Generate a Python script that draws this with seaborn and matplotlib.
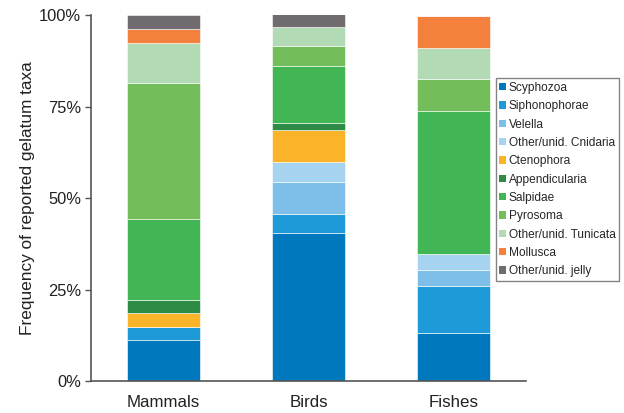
import matplotlib
matplotlib.use("Agg")
import matplotlib.pyplot as plt
from matplotlib.patches import Patch
from matplotlib.ticker import PercentFormatter
import numpy as np
import pandas as pd
import seaborn as sns

# Predator groups and taxon composition (% of reported gelatinous taxa)
groups = ["Mammals", "Birds", "Fishes"]
taxa = ["Scyphozoa", "Siphonophorae", "Velella", "Other/unid. Cnidaria",
        "Ctenophora", "Appendicularia", "Salpidae", "Pyrosoma",
        "Other/unid. Tunicata", "Mollusca", "Other/unid. jelly"]

scyphozoa = [11.1, 40.4, 13.0]
siphonophorae = [3.7, 5.3, 13.0]
velella = [0.0, 8.8, 4.3]
other_cnidaria = [0.0, 5.3, 4.3]
ctenophora = [3.7, 8.8, 0.0]
appendicularia = [3.7, 1.8, 0.0]
salpidae = [22.2, 15.8, 39.1]
pyrosoma = [37.0, 5.3, 8.7]
other_tunicata = [11.1, 5.3, 8.7]
mollusca = [3.7, 0.0, 8.7]
other_jelly = [3.7, 3.5, 0.0]

series = [scyphozoa, siphonophorae, velella, other_cnidaria, ctenophora,
          appendicularia, salpidae, pyrosoma, other_tunicata, mollusca,
          other_jelly]

colors = ["#0078BE", "#1E9AD8", "#7DBFE8", "#A6D3F0", "#FBB42A", "#2E8B45",
          "#42B555", "#73BE5B", "#B2DAB5", "#F4803E", "#6F6B6E"]

sns.set_theme(style="ticks")
plt.rcParams["font.family"] = ["Liberation Sans", "DejaVu Sans"]

fig = plt.figure(figsize=(6.24, 4.13), dpi=100)
ax = fig.add_axes([0.1458, 0.0775, 0.697, 0.886])

bottom = np.zeros(len(groups))
for name, vals, col in zip(taxa, series, colors):
    df = pd.DataFrame({"group": groups, "pct": vals})
    sns.barplot(data=df, x="group", y="pct", order=groups, color=col,
                width=0.5, bottom=bottom, edgecolor="white", linewidth=0.4,
                saturation=1, errorbar=None, ax=ax)
    bottom = bottom + np.array(vals)

ax.set_xlim(-0.5, 2.5)
ax.set_ylim(0, 100)
ax.set_yticks([0, 25, 50, 75, 100])
ax.yaxis.set_major_formatter(PercentFormatter(decimals=0))
ax.set_xlabel("")
ax.set_ylabel("Frequency of reported gelatum taxa", fontsize=12.4,
              color="#222222", labelpad=3)
ax.tick_params(axis="y", labelsize=11.9, length=4, width=1,
               color="#555555", labelcolor="#222222", pad=3)
ax.tick_params(axis="x", labelsize=12.2, length=0, labelcolor="#222222",
               pad=10)
for side in ("top", "right"):
    ax.spines[side].set_visible(False)
for side in ("left", "bottom"):
    ax.spines[side].set_color("#555555")
    ax.spines[side].set_linewidth(1.2)

handles = [Patch(facecolor=c, edgecolor="none", label=t)
           for t, c in zip(taxa, colors)]
leg = fig.legend(handles=handles, loc="upper left",
                 bbox_to_anchor=(0.7944, 0.8104), fontsize=8.6,
                 frameon=True, fancybox=False, handlelength=0.6,
                 handleheight=0.6, handletextpad=0.2, labelspacing=0.53,
                 borderpad=0.3, borderaxespad=0)
leg.get_frame().set_edgecolor("#666666")
leg.get_frame().set_linewidth(1.0)

fig.savefig("out.png", dpi=100)
